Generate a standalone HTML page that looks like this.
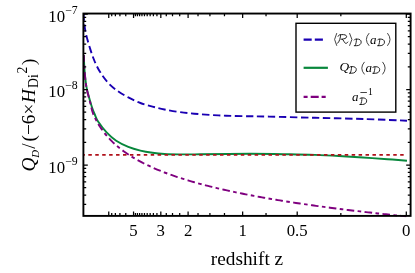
<!DOCTYPE html><html><head><meta charset="utf-8"><style>html,body{margin:0;padding:0;background:#fff}svg{display:block;will-change:transform}text{font-family:"Liberation Serif",serif;fill:#000}</style></head><body>
<svg width="415" height="273" viewBox="0 0 415 273">
<rect width="415" height="273" fill="#fff"/>
<defs><clipPath id="c"><rect x="83.4" y="13.6" width="327.2" height="203.8"/></clipPath></defs>
<g clip-path="url(#c)" fill="none">
<path d="M83.60,14.00 C83.68,15.33 83.70,18.67 84.10,22.00 C84.50,25.33 85.00,29.57 86.00,34.00 C87.00,38.43 88.68,44.10 90.10,48.60 C91.52,53.10 92.88,57.18 94.50,61.00 C96.12,64.82 97.70,68.05 99.80,71.50 C101.90,74.95 104.32,78.58 107.10,81.70 C109.88,84.82 112.97,87.58 116.50,90.20 C120.03,92.82 124.32,95.27 128.30,97.40 C132.28,99.53 136.37,101.47 140.40,103.00 C144.43,104.53 148.48,105.52 152.50,106.60 C156.52,107.68 160.08,108.60 164.50,109.50 C168.92,110.40 174.05,111.30 179.00,112.00 C183.95,112.70 187.65,113.13 194.20,113.70 C200.75,114.27 210.25,115.00 218.30,115.40 C226.35,115.80 234.05,115.90 242.50,116.10 C250.95,116.30 256.92,116.32 269.00,116.60 C281.08,116.88 299.28,117.40 315.00,117.80 C330.72,118.20 347.97,118.52 363.30,119.00 C378.63,119.48 399.72,120.42 407.00,120.70" stroke="#1a00b3" stroke-width="1.9" stroke-dasharray="7.4,3.6" stroke-dashoffset="0.55"/>
<path d="M83.80,55.00 C83.92,57.45 84.07,64.43 84.50,69.70 C84.93,74.97 85.47,81.38 86.40,86.60 C87.33,91.82 89.10,97.35 90.10,101.00 C91.10,104.65 91.62,106.25 92.40,108.50 C93.18,110.75 93.85,112.32 94.80,114.50 C95.75,116.68 96.13,118.62 98.10,121.60 C100.07,124.58 103.58,129.20 106.60,132.40 C109.62,135.60 112.58,138.38 116.20,140.80 C119.82,143.22 124.27,145.27 128.30,146.90 C132.33,148.53 136.37,149.62 140.40,150.60 C144.43,151.58 148.48,152.23 152.50,152.80 C156.52,153.37 160.08,153.73 164.50,154.00 C168.92,154.27 173.08,154.35 179.00,154.40 C184.92,154.45 188.17,154.40 200.00,154.30 C211.83,154.20 235.00,153.80 250.00,153.80 C265.00,153.80 279.17,154.12 290.00,154.30 C300.83,154.48 306.83,154.62 315.00,154.90 C323.17,155.18 331.00,155.57 339.00,156.00 C347.00,156.43 354.92,156.97 363.00,157.50 C371.08,158.03 380.17,158.67 387.50,159.20 C394.83,159.73 403.75,160.45 407.00,160.70" stroke="#08873c" stroke-width="1.9"/>
<path d="M82.5,154.8H404.5" stroke="#b0101a" stroke-width="1.75" stroke-dasharray="3.5,3.43" stroke-dashoffset="1.1"/>
<path d="M83.80,55.00 C83.92,57.50 84.07,64.62 84.50,70.00 C84.93,75.38 85.47,81.92 86.40,87.30 C87.33,92.68 89.12,98.30 90.10,102.30 C91.08,106.30 91.65,109.04 92.30,111.30 C92.95,113.56 93.38,114.41 94.00,115.84 C94.62,117.27 95.33,118.61 96.00,119.88 C96.67,121.15 97.33,122.34 98.00,123.48 C98.67,124.62 99.00,125.23 100.00,126.72 C101.00,128.20 102.67,130.63 104.00,132.37 C105.33,134.12 106.67,135.69 108.00,137.19 C109.33,138.70 110.67,140.08 112.00,141.40 C113.33,142.72 114.67,143.94 116.00,145.12 C117.33,146.30 118.67,147.40 120.00,148.47 C121.33,149.53 122.67,150.53 124.00,151.50 C125.33,152.47 126.67,153.39 128.00,154.28 C129.33,155.17 130.67,156.02 132.00,156.84 C133.33,157.66 134.67,158.45 136.00,159.21 C137.33,159.98 138.67,160.71 140.00,161.43 C141.33,162.14 142.67,162.83 144.00,163.50 C145.33,164.17 146.67,164.82 148.00,165.45 C149.33,166.09 150.67,166.70 152.00,167.29 C153.33,167.89 154.67,168.47 156.00,169.04 C157.33,169.60 158.67,170.15 160.00,170.69 C161.33,171.23 162.67,171.76 164.00,172.27 C165.33,172.78 166.67,173.28 168.00,173.77 C169.33,174.26 170.67,174.74 172.00,175.21 C173.33,175.68 174.67,176.14 176.00,176.59 C177.33,177.04 178.67,177.48 180.00,177.91 C181.33,178.34 182.67,178.76 184.00,179.18 C185.33,179.59 186.67,180.00 188.00,180.40 C189.33,180.80 190.67,181.20 192.00,181.58 C193.33,181.97 194.67,182.35 196.00,182.72 C197.33,183.09 198.67,183.46 200.00,183.82 C201.33,184.18 202.67,184.53 204.00,184.88 C205.33,185.23 206.67,185.58 208.00,185.91 C209.33,186.25 210.67,186.59 212.00,186.91 C213.33,187.24 214.67,187.57 216.00,187.88 C217.33,188.20 218.67,188.52 220.00,188.83 C221.33,189.14 222.67,189.44 224.00,189.74 C225.33,190.04 226.67,190.34 228.00,190.63 C229.33,190.93 230.67,191.21 232.00,191.50 C233.33,191.78 234.67,192.07 236.00,192.34 C237.33,192.62 238.67,192.90 240.00,193.17 C241.33,193.44 242.67,193.71 244.00,193.97 C245.33,194.24 246.67,194.50 248.00,194.76 C249.33,195.01 250.67,195.27 252.00,195.52 C253.33,195.77 254.67,196.02 256.00,196.27 C257.33,196.52 258.67,196.76 260.00,197.00 C261.33,197.24 262.67,197.48 264.00,197.72 C265.33,197.95 266.67,198.19 268.00,198.42 C269.33,198.65 270.67,198.88 272.00,199.10 C273.33,199.33 274.67,199.55 276.00,199.78 C277.33,200.00 278.67,200.22 280.00,200.43 C281.33,200.65 282.67,200.87 284.00,201.08 C285.33,201.29 286.67,201.50 288.00,201.71 C289.33,201.92 290.67,202.13 292.00,202.33 C293.33,202.54 294.67,202.74 296.00,202.94 C297.33,203.14 298.67,203.34 300.00,203.54 C301.33,203.74 302.67,203.93 304.00,204.13 C305.33,204.32 306.67,204.51 308.00,204.70 C309.33,204.90 310.67,205.08 312.00,205.27 C313.33,205.46 314.67,205.65 316.00,205.83 C317.33,206.01 318.67,206.20 320.00,206.38 C321.33,206.56 322.67,206.74 324.00,206.92 C325.33,207.10 326.67,207.27 328.00,207.45 C329.33,207.62 330.67,207.80 332.00,207.97 C333.33,208.14 334.67,208.31 336.00,208.48 C337.33,208.65 338.67,208.82 340.00,208.99 C341.33,209.16 342.67,209.32 344.00,209.49 C345.33,209.65 346.67,209.82 348.00,209.98 C349.33,210.14 350.67,210.30 352.00,210.46 C353.33,210.62 354.67,210.78 356.00,210.94 C357.33,211.10 358.67,211.25 360.00,211.41 C361.33,211.56 362.67,211.72 364.00,211.87 C365.33,212.02 366.67,212.18 368.00,212.33 C369.33,212.48 370.67,212.63 372.00,212.78 C373.33,212.93 374.67,213.08 376.00,213.22 C377.33,213.37 378.67,213.52 380.00,213.66 C381.33,213.81 382.67,213.95 384.00,214.09 C385.33,214.24 386.67,214.38 388.00,214.52 C389.33,214.66 390.67,214.80 392.00,214.94 C393.33,215.08 394.67,215.22 396.00,215.36 C397.33,215.50 398.67,215.63 400.00,215.77 C401.33,215.90 402.95,216.07 404.00,216.17 C405.05,216.28 405.92,216.37 406.30,216.41" stroke="#7f007f" stroke-width="1.9" stroke-dasharray="7.6,3.4,3.6,3.4" stroke-dashoffset="0.78"/>
</g>
<path d="M108.75,215.90v-4.4M108.75,13.55v4.4M133.55,215.90v-4.4M133.55,13.55v4.4M160.82,215.90v-4.4M160.82,13.55v4.4M188.10,215.90v-4.4M188.10,13.55v4.4M242.65,215.90v-4.4M242.65,13.55v4.4M297.20,215.90v-4.4M297.20,13.55v4.4M406.30,215.90v-4.4M406.30,13.55v4.4M111.73,215.90v-2.8M111.73,13.55v2.8M115.37,215.90v-2.8M115.37,13.55v2.8M119.91,215.90v-2.8M119.91,13.55v2.8M125.76,215.90v-2.8M125.76,13.55v2.8M156.93,215.90v-2.8M156.93,13.55v2.8M153.39,215.90v-2.8M153.39,13.55v2.8M150.15,215.90v-2.8M150.15,13.55v2.8M147.19,215.90v-2.8M147.19,13.55v2.8M144.46,215.90v-2.8M144.46,13.55v2.8M141.94,215.90v-2.8M141.94,13.55v2.8M139.61,215.90v-2.8M139.61,13.55v2.8M137.45,215.90v-2.8M137.45,13.55v2.8M135.43,215.90v-2.8M135.43,13.55v2.8M166.28,215.90v-2.8M166.28,13.55v2.8M172.51,215.90v-2.8M172.51,13.55v2.8M179.71,215.90v-2.8M179.71,13.55v2.8M198.02,215.90v-2.8M198.02,13.55v2.8M209.92,215.90v-2.8M209.92,13.55v2.8M224.47,215.90v-2.8M224.47,13.55v2.8M266.03,215.90v-2.8M266.03,13.55v2.8M340.84,215.90v-2.8M340.84,13.55v2.8M83.40,14.00h4.4M410.60,14.00h-4.4M83.40,66.77h2.8M410.60,66.77h-2.8M83.40,53.48h2.8M410.60,53.48h-2.8M83.40,44.04h2.8M410.60,44.04h-2.8M83.40,36.73h2.8M410.60,36.73h-2.8M83.40,30.75h2.8M410.60,30.75h-2.8M83.40,25.70h2.8M410.60,25.70h-2.8M83.40,21.32h2.8M410.60,21.32h-2.8M83.40,17.45h2.8M410.60,17.45h-2.8M83.40,89.50h4.4M410.60,89.50h-4.4M83.40,142.27h2.8M410.60,142.27h-2.8M83.40,128.98h2.8M410.60,128.98h-2.8M83.40,119.54h2.8M410.60,119.54h-2.8M83.40,112.23h2.8M410.60,112.23h-2.8M83.40,106.25h2.8M410.60,106.25h-2.8M83.40,101.20h2.8M410.60,101.20h-2.8M83.40,96.82h2.8M410.60,96.82h-2.8M83.40,92.95h2.8M410.60,92.95h-2.8M83.40,165.00h4.4M410.60,165.00h-4.4M83.40,204.48h2.8M410.60,204.48h-2.8M83.40,195.04h2.8M410.60,195.04h-2.8M83.40,187.73h2.8M410.60,187.73h-2.8M83.40,181.75h2.8M410.60,181.75h-2.8M83.40,176.70h2.8M410.60,176.70h-2.8M83.40,172.32h2.8M410.60,172.32h-2.8M83.40,168.45h2.8M410.60,168.45h-2.8" stroke="#000" stroke-width="1.25" fill="none"/>
<rect x="83.40" y="13.55" width="327.20" height="202.35" fill="none" stroke="#000" stroke-width="1.9"/>
<text x="133.55" y="235.9" font-size="16.8" text-anchor="middle">5</text>
<text x="160.82" y="235.9" font-size="16.8" text-anchor="middle">3</text>
<text x="188.10" y="235.9" font-size="16.8" text-anchor="middle">2</text>
<text x="242.65" y="235.9" font-size="16.8" text-anchor="middle">1</text>
<text x="297.20" y="235.9" font-size="16.8" text-anchor="middle">0.5</text>
<text x="406.30" y="235.9" font-size="16.8" text-anchor="middle">0</text>
<text x="77.7" y="21.8" font-size="16.8" text-anchor="end">10<tspan dy="-7.9" font-size="11.8">−7</tspan></text>
<text x="77.7" y="97.3" font-size="16.8" text-anchor="end">10<tspan dy="-7.9" font-size="11.8">−8</tspan></text>
<text x="77.7" y="172.8" font-size="16.8" text-anchor="end">10<tspan dy="-7.9" font-size="11.8">−9</tspan></text>
<text x="247" y="264.6" font-size="19.3" text-anchor="middle">redshift z</text>
<text transform="translate(35.3,171.6) rotate(-90)" font-size="19.3"><tspan font-style="italic">Q</tspan><tspan font-style="italic" font-size="10.8" dy="3.5">D</tspan><tspan dy="-3.5" dx="1.2">/</tspan><tspan dx="1.8">(−6×</tspan><tspan font-style="italic" dx="0.8">H</tspan><tspan font-size="13.7" dy="2.7" dx="1">Di</tspan><tspan font-size="13.7" dy="-11" dx="0.8">2</tspan><tspan dy="8.3" dx="1.5">)</tspan></text>
<rect x="296" y="23.3" width="99.8" height="88.8" fill="#fff" stroke="#000" stroke-width="1.4"/>
<path d="M303.6,39.55H322.9" stroke="#1a00b3" stroke-width="2.3" stroke-dasharray="8.1,3.1" fill="none"/>
<path d="M303.6,67.8H327.9" stroke="#08873c" stroke-width="2.2" fill="none"/>
<path d="M303.6,96.8H325.7" stroke="#7f007f" stroke-width="2.3" stroke-dasharray="4,3.1,8,2.9,4.1,9" fill="none"/>
<path d="M336.80,33.10 L334.60,39.45 L336.80,45.80" fill="none" stroke="#222" stroke-width="0.85"/>
<path transform="translate(337.30,43.30) scale(12.60)" d="M0.06,-0.56 C0.10,-0.66 0.20,-0.69 0.34,-0.69 C0.56,-0.70 0.74,-0.66 0.74,-0.53 C0.74,-0.40 0.55,-0.33 0.30,-0.32 M0.27,-0.68 C0.25,-0.45 0.18,-0.12 0.02,0 M0.40,-0.33 C0.50,-0.28 0.55,-0.02 0.66,0 C0.74,0.01 0.80,-0.04 0.84,-0.10" fill="none" stroke="#111" stroke-width="0.075" stroke-linecap="round"/>
<path d="M349.50,33.10 L351.90,39.45 L349.50,45.80" fill="none" stroke="#222" stroke-width="0.85"/>
<path transform="translate(353.90,45.70) scale(9.60)" d="M0.03,-0.60 C0.08,-0.67 0.18,-0.69 0.32,-0.69 C0.58,-0.70 0.76,-0.58 0.76,-0.38 C0.76,-0.16 0.56,0 0.30,0 L0.04,0 M0.27,-0.68 C0.26,-0.45 0.22,-0.15 0.13,0" fill="none" stroke="#111" stroke-width="0.094" stroke-linecap="round"/>
<path d="M369.20,33.10 Q363.60,39.45 369.20,45.80" fill="none" stroke="#222" stroke-width="0.85"/>
<text x="370.00" y="43.60" font-size="13.0" font-style="italic" fill="#111">a</text>
<path transform="translate(377.20,45.70) scale(9.60)" d="M0.03,-0.60 C0.08,-0.67 0.18,-0.69 0.32,-0.69 C0.58,-0.70 0.76,-0.58 0.76,-0.38 C0.76,-0.16 0.56,0 0.30,0 L0.04,0 M0.27,-0.68 C0.26,-0.45 0.22,-0.15 0.13,0" fill="none" stroke="#111" stroke-width="0.094" stroke-linecap="round"/>
<path d="M387.40,33.10 Q392.60,39.45 387.40,45.80" fill="none" stroke="#222" stroke-width="0.85"/>
<text x="339.40" y="71.30" font-size="13.4" font-style="italic" fill="#111">Q</text>
<path transform="translate(349.00,73.20) scale(9.60)" d="M0.03,-0.60 C0.08,-0.67 0.18,-0.69 0.32,-0.69 C0.58,-0.70 0.76,-0.58 0.76,-0.38 C0.76,-0.16 0.56,0 0.30,0 L0.04,0 M0.27,-0.68 C0.26,-0.45 0.22,-0.15 0.13,0" fill="none" stroke="#111" stroke-width="0.094" stroke-linecap="round"/>
<path d="M364.50,61.90 Q359.10,68.15 364.50,74.40" fill="none" stroke="#222" stroke-width="0.85"/>
<text x="365.50" y="71.70" font-size="13.0" font-style="italic" fill="#111">a</text>
<path transform="translate(372.40,73.30) scale(9.60)" d="M0.03,-0.60 C0.08,-0.67 0.18,-0.69 0.32,-0.69 C0.58,-0.70 0.76,-0.58 0.76,-0.38 C0.76,-0.16 0.56,0 0.30,0 L0.04,0 M0.27,-0.68 C0.26,-0.45 0.22,-0.15 0.13,0" fill="none" stroke="#111" stroke-width="0.094" stroke-linecap="round"/>
<path d="M382.50,61.90 Q387.70,68.15 382.50,74.40" fill="none" stroke="#222" stroke-width="0.85"/>
<text x="352.00" y="100.90" font-size="13.0" font-style="italic" fill="#111">a</text>
<path transform="translate(359.40,104.50) scale(9.60)" d="M0.03,-0.60 C0.08,-0.67 0.18,-0.69 0.32,-0.69 C0.58,-0.70 0.76,-0.58 0.76,-0.38 C0.76,-0.16 0.56,0 0.30,0 L0.04,0 M0.27,-0.68 C0.26,-0.45 0.22,-0.15 0.13,0" fill="none" stroke="#111" stroke-width="0.094" stroke-linecap="round"/>
<path d="M360.4,92.5H366.9" stroke="#222" stroke-width="0.85" fill="none"/>
<text x="368.0" y="95.1" font-size="9.6" fill="#111">1</text>
</svg></body></html>
